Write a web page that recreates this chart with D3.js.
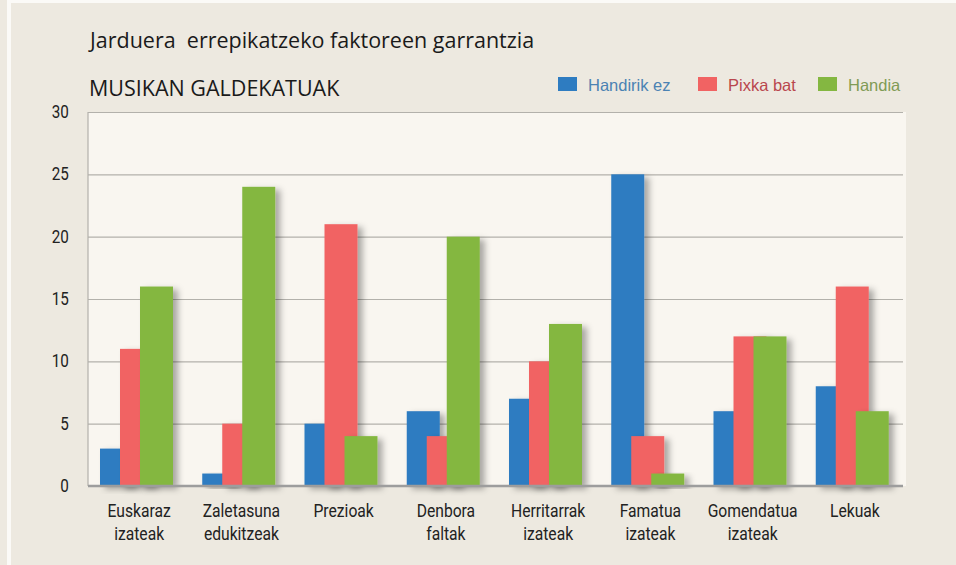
<!DOCTYPE html>
<html>
<head>
<meta charset="utf-8">
<script src="https://cdn.jsdelivr.net/npm/d3@7"></script>
<style>
  body { margin: 0; background: #ede9e0; }
  svg { display: block; }
</style>
</head>
<body>
<script>
// values
const categories = [
  "Euskaraz|izateak", "Zaletasuna|edukitzeak", "Prezioak", "Denbora|faltak",
  "Herritarrak|izateak", "Famatua|izateak", "Gomendatua|izateak", "Lekuak"
];
const seriesNames = ["Handirik ez", "Pixka bat", "Handia"];
const handirikEz = [3, 1, 5, 6, 7, 25, 6, 8];
const pixkaBat = [11, 5, 21, 4, 10, 4, 12, 16];
const handia = [16, 24, 4, 20, 13, 1, 12, 6];
const yTicks = [0, 5, 10, 15, 20, 25, 30];

const seriesValues = [handirikEz, pixkaBat, handia];
const barColors = ["#2e7cc1", "#f16363", "#84b741"];
const textColors = ["#4b82b3", "#b9464d", "#809b55"];

const width = 956, height = 565;
const plotL = 88, plotR = 906, plotT = 112, plotB = 486;
const narrow = "scale(0.87,1)"; // labels in the picture use a condensed face

const svg = d3.select("body").append("svg")
  .attr("width", width).attr("height", height);

// soft shadow behind bars
const f = svg.append("defs").append("filter").attr("id", "shadow")
  .attr("x", "-20%").attr("y", "-10%").attr("width", "160%").attr("height", "130%");
f.append("feDropShadow").attr("dx", 5).attr("dy", 3).attr("stdDeviation", 3)
  .attr("flood-color", "#000").attr("flood-opacity", 0.32);

// panel frame
svg.append("rect").attr("x", 7).attr("y", 0).attr("width", 4).attr("height", height).attr("fill", "#fbfaf7");
svg.append("rect").attr("x", 7).attr("y", 0).attr("width", width).attr("height", 3).attr("fill", "#fbfaf7");

// plot background
svg.append("rect").attr("x", plotL).attr("y", plotT).attr("width", plotR - plotL).attr("height", plotB - plotT)
  .attr("fill", "#f9f6f0");

const y = d3.scaleLinear().domain([0, 30]).range([plotB, plotT]);
const x0 = d3.scaleBand().domain(categories).range([plotL, plotR]);
const x1 = d3.scalePoint().domain(seriesNames).range([0, 40]);
const barW = 33;

// grid + y labels
const yAxis = svg.append("g").attr("transform", "translate(" + plotL + ",0)")
  .call(d3.axisLeft(y).tickValues(yTicks).tickSize(-(plotR - plotL - 3)).tickPadding(22));
yAxis.select(".domain").remove();
yAxis.selectAll(".tick line").attr("stroke", "#b3b1ab").attr("stroke-width", 1.2);
yAxis.selectAll(".tick text").attr("font-family", "Roboto").attr("font-size", 17.5)
  .attr("fill", "#222").attr("transform", narrow);

// left border
svg.append("line").attr("x1", plotL).attr("x2", plotL).attr("y1", plotT).attr("y2", plotB)
  .attr("stroke", "#b3b1ab").attr("stroke-width", 1.2);

// bars
const groups = svg.append("g").selectAll("g").data(seriesNames).join("g")
  .attr("fill", (d, i) => barColors[i]);
groups.selectAll("rect")
  .data((s, i) => categories.map((c, j) => ({ cat: c, s: s, v: seriesValues[i][j] })))
  .join("rect")
  .attr("x", d => x0(d.cat) + 12 + x1(d.s))
  .attr("y", d => y(d.v))
  .attr("width", barW)
  .attr("height", d => y(0) - y(d.v))
  .attr("filter", "url(#shadow)");

// bottom axis line
svg.append("line").attr("x1", plotL).attr("x2", plotR - 3).attr("y1", plotB).attr("y2", plotB)
  .attr("stroke", "#9d9d9d").attr("stroke-width", 2.5);

// category labels
const xAxis = svg.append("g").attr("transform", "translate(0," + plotB + ")")
  .call(d3.axisBottom(x0).tickSize(0).tickFormat(""));
xAxis.select(".domain").remove();
xAxis.selectAll(".tick text").remove();
xAxis.selectAll(".tick").append("text")
  .attr("font-family", "Roboto").attr("font-size", 18).attr("fill", "#222")
  .attr("text-anchor", "middle").attr("transform", narrow)
  .selectAll("tspan").data(d => d.split("|")).join("tspan")
  .attr("x", 0).attr("y", (d, i) => 31 + i * 23).text(d => d);

// titles
svg.append("text").attr("x", 90).attr("y", 48)
  .attr("font-family", "Open Sans").attr("font-size", 21.5).attr("fill", "#1a1a1a")
  .attr("xml:space", "preserve")
  .text("Jarduera  errepikatzeko faktoreen garrantzia");
svg.append("text").attr("x", 89).attr("y", 96)
  .attr("font-family", "Open Sans").attr("font-size", 21.5).attr("fill", "#1a1a1a")
  .text("MUSIKAN GALDEKATUAK");

// legend
const legendX = [558, 698, 818];
const legend = svg.append("g").selectAll("g").data(seriesNames).join("g")
  .attr("transform", (d, i) => "translate(" + legendX[i] + ",77)");
legend.append("rect").attr("width", 19).attr("height", 14).attr("fill", (d, i) => barColors[i]);
legend.append("text").attr("x", 30).attr("y", 14)
  .attr("font-family", "Liberation Sans").attr("font-size", 16.5)
  .attr("fill", (d, i) => textColors[i]).text(d => d);
</script>
</body>
</html>
